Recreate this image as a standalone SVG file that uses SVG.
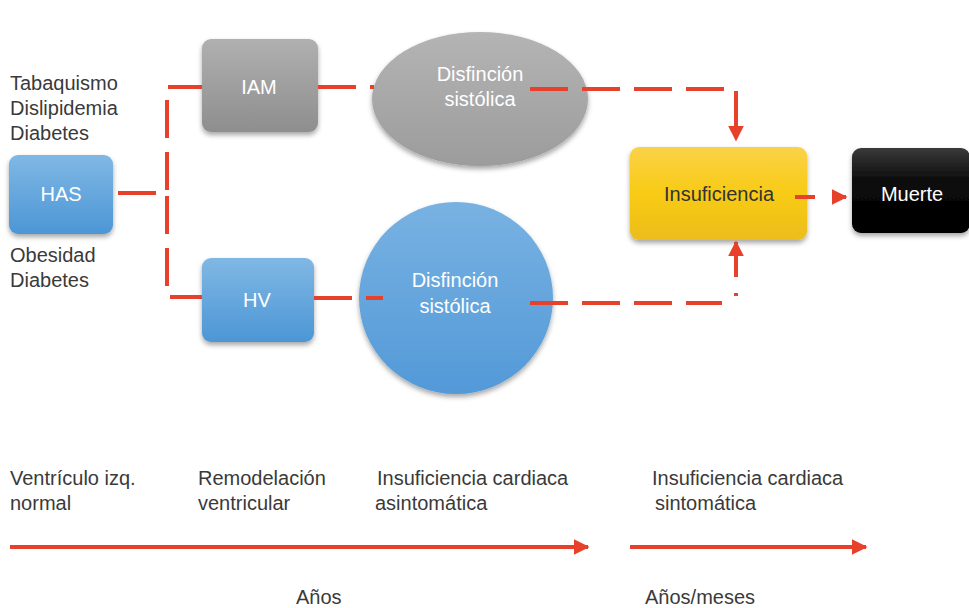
<svg xmlns="http://www.w3.org/2000/svg" width="969" height="608" viewBox="0 0 969 608">
<defs>
<linearGradient id="gBlue" x1="0" y1="0" x2="0" y2="1"><stop offset="0" stop-color="#80b8e4"/><stop offset="1" stop-color="#4c96d6"/></linearGradient>
<linearGradient id="gGray" x1="0" y1="0" x2="0" y2="1"><stop offset="0" stop-color="#b0b0b0"/><stop offset="1" stop-color="#8e8e8e"/></linearGradient>
<linearGradient id="gGrayE" x1="0" y1="0" x2="0" y2="1"><stop offset="0" stop-color="#b4b4b4"/><stop offset="1" stop-color="#9c9c9c"/></linearGradient>
<linearGradient id="gBlueE" x1="0" y1="0" x2="0" y2="1"><stop offset="0" stop-color="#78b2e2"/><stop offset="1" stop-color="#5399d8"/></linearGradient>
<linearGradient id="gYel" x1="0" y1="0" x2="0" y2="1"><stop offset="0" stop-color="#fad248"/><stop offset="0.5" stop-color="#f8cb14"/><stop offset="1" stop-color="#ecbd1c"/></linearGradient>
<linearGradient id="gBlk" x1="0" y1="0" x2="0" y2="1"><stop offset="0" stop-color="#3a3a3a"/><stop offset="0.4" stop-color="#0a0a0a"/><stop offset="1" stop-color="#000"/></linearGradient>
<filter id="sh" x="-20%" y="-20%" width="140%" height="150%"><feDropShadow dx="0" dy="3" stdDeviation="2.5" flood-color="#000" flood-opacity="0.35"/></filter>
<marker id="ah" viewBox="0 0 10 10" refX="9" refY="5" markerWidth="4" markerHeight="4" orient="auto" markerUnits="strokeWidth"><path d="M0,0 L10,5 L0,10 z" fill="#e8412b"/></marker>
<style>
text{font-family:"Liberation Sans",Arial,sans-serif;font-size:20px;}
.lbl{fill:#3a3a3a;}
.w{fill:#fff;text-anchor:middle;}
.d{fill:#333;text-anchor:middle;}
.dash{fill:none;stroke:#e8412b;stroke-width:4;stroke-dasharray:38 14;}
.solid{fill:none;stroke:#e8412b;stroke-width:4;}
</style>
</defs>
<rect width="969" height="608" fill="#fff"/>

<g id="risk-text" class="lbl">
<text x="10" y="90">Tabaquismo</text>
<text x="10" y="115">Dislipidemia</text>
<text x="10" y="140">Diabetes</text>
<text x="10" y="262">Obesidad</text>
<text x="10" y="287">Diabetes</text>
</g>

<g id="has"><rect x="9" y="155" width="104" height="79" rx="9" fill="url(#gBlue)" filter="url(#sh)"/><text class="w" x="61" y="201">HAS</text></g>
<g id="iam"><rect x="202" y="39" width="116" height="93" rx="9" fill="url(#gGray)" filter="url(#sh)"/><text class="w" x="259" y="94">IAM</text></g>
<g id="hv"><rect x="202" y="258" width="112" height="84" rx="9" fill="url(#gBlue)" filter="url(#sh)"/><text class="w" x="257" y="307">HV</text></g>
<g id="disf-gray"><ellipse cx="480" cy="99" rx="108" ry="67" fill="url(#gGrayE)" filter="url(#sh)"/><text class="w" x="480" y="81">Disfinción</text><text class="w" x="480" y="106">sistólica</text></g>
<g id="disf-blue"><ellipse cx="456" cy="298" rx="97" ry="96" fill="url(#gBlueE)" filter="url(#sh)"/><text class="w" x="455" y="287">Disfinción</text><text class="w" x="455" y="313">sistólica</text></g>
<g id="insuf"><rect x="630" y="147" width="177" height="93" rx="9" fill="url(#gYel)" filter="url(#sh)"/><text class="d" x="719" y="201">Insuficiencia</text></g>
<g id="muerte"><rect x="852" y="148" width="118" height="85" rx="9" fill="url(#gBlk)" filter="url(#sh)"/><text class="w" x="912" y="201">Muerte</text></g>

<g id="connectors">
<path class="dash" d="M114,193 H167 V87 H202" stroke-dashoffset="-4"/>
<path class="dash" d="M114,193 H167 V297 H202" stroke-dashoffset="-4"/>
<path class="dash" d="M318,87 H374"/>
<path class="dash" d="M314,298 H383"/>
<path class="dash" d="M530,89 H736 V140" marker-end="url(#ah)"/>
<path class="dash" d="M530,303 H722"/>
<path class="solid" d="M736,293 V296"/>
<path class="solid" d="M736,277 V242" marker-end="url(#ah)"/>
<path class="solid" d="M795,197 H815"/>
<path class="solid" d="M832,197 H846" marker-end="url(#ah)"/>
</g>

<g id="timeline">
<text class="lbl" x="10" y="485">Ventrículo izq.</text>
<text class="lbl" x="10" y="510">normal</text>
<text class="lbl" x="198" y="485">Remodelación</text>
<text class="lbl" x="198" y="510">ventricular</text>
<text class="lbl" x="377" y="485">Insuficiencia cardiaca</text>
<text class="lbl" x="375" y="510">asintomática</text>
<text class="lbl" x="652" y="485">Insuficiencia cardiaca</text>
<text class="lbl" x="655" y="510">sintomática</text>
<path class="solid" d="M10,547 H588" marker-end="url(#ah)"/>
<path class="solid" d="M630,547 H866" marker-end="url(#ah)"/>
<text class="lbl" x="296" y="604">Años</text>
<text class="lbl" x="645" y="604">Años/meses</text>
</g>
</svg>
